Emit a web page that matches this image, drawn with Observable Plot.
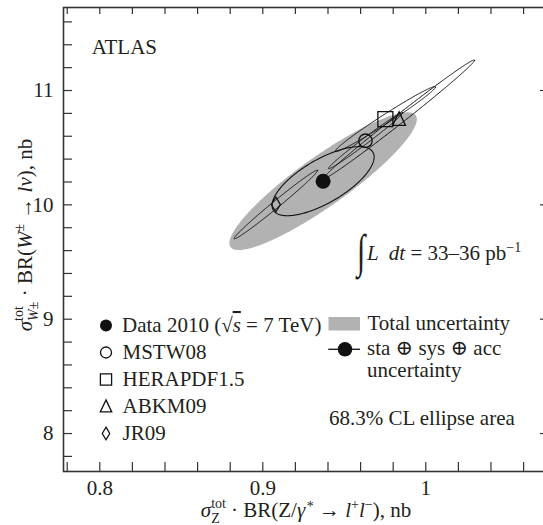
<!DOCTYPE html>
<html>
<head>
<meta charset="utf-8">
<script src="https://cdn.jsdelivr.net/npm/d3@7"></script>
<script src="https://cdn.jsdelivr.net/npm/@observablehq/plot@0.6"></script>
<style>
  html, body { margin: 0; padding: 0; background: #fff; }
  #chart { width: 543px; height: 525px; overflow: hidden; }
  svg text { font-family: "Liberation Serif", "Times New Roman", "DejaVu Serif", serif; }
</style>
</head>
<body>
<div id="chart"></div>
<script>
// ---------------- data ----------------
// measurement (centre of ellipses)
const dataZ = 0.937;
const dataW = 10.207;
// total-uncertainty ellipse (68.3% CL)
const totSigZ = 0.0575, totSigW = 0.602, totRho = 0.90;
// sta+sys+acc ellipse (68.3% CL)
const expSigZ = 0.0313, expSigW = 0.302, expRho = 0.70;

// theory predictions
const pdfNames = ["MSTW08", "HERAPDF1.5", "ABKM09", "JR09"];
const pdfZ     = [0.9630, 0.9752, 0.9836, 0.9080];
const pdfW     = [10.561, 10.750, 10.748, 10.003];
const pdfSigZ  = [0.0227, 0.0307, 0.0463, 0.0256];
const pdfSigW  = [0.245, 0.284, 0.519, 0.300];
const pdfRho   = [0.9909, 0.9863, 0.9953, 0.9912];

// axes
const xTicks = [0.8, 0.9, 1];
const xTickLabels = ["0.8", "0.9", "1"];
const yTicks = [8, 9, 10, 11];
const yTickLabels = ["8", "9", "10", "11"];
const xMinor = [0.78, 0.80, 0.82, 0.84, 0.86, 0.88, 0.90, 0.92, 0.94, 0.96, 0.98, 1.00, 1.02, 1.04, 1.06];
const yMinor = [7.8, 8.0, 8.2, 8.4, 8.6, 8.8, 9.0, 9.2, 9.4, 9.6, 9.8, 10.0, 10.2, 10.4, 10.6, 10.8, 11.0, 11.2, 11.4, 11.6];

// ---------------- layout ----------------
const W = 543, H = 525;
const mL = 63, mT = 7, mR = -2, mB = 54;
const xDom = [0.77773, 1.07344];
const yDom = [7.668, 11.726];
const kx = (W - mR - mL) / (xDom[1] - xDom[0]);
const ky = (H - mB - mT) / (yDom[1] - yDom[0]);
const xInv = px => xDom[0] + (px - mL) / kx;
const yInv = py => yDom[1] - (py - mT) / ky;

const ink = "#231f20";
const gray = "#b2b2b2";
const FS = 21;

// covariance ellipse outline from centre, sigmas and correlation
function ellipse(name, cx, cy, sx, sy, rho, n = 360) {
  const s = Math.sqrt(1 - rho * rho);
  return d3.range(n).map(i => {
    const t = 2 * Math.PI * i / n;
    return {name, x: cx + sx * Math.cos(t), y: cy + sy * (rho * Math.cos(t) + s * Math.sin(t))};
  });
}

// custom symbols (size = pi r^2)
const symSquare = {draw(ctx, size) { const r = Math.sqrt(size / Math.PI); ctx.rect(-r, -r, 2 * r, 2 * r); }};
const symTri = {draw(ctx, size) { const r = Math.sqrt(size / Math.PI);
  ctx.moveTo(0, -1.1 * r); ctx.lineTo(0.95 * r, 0.9 * r); ctx.lineTo(-0.95 * r, 0.9 * r); ctx.closePath(); }};
const symDiamond = {draw(ctx, size) { const r = Math.sqrt(size / Math.PI);
  ctx.moveTo(0, -1.05 * r); ctx.lineTo(0.62 * r, 0); ctx.lineTo(0, 1.05 * r); ctx.lineTo(-0.62 * r, 0); ctx.closePath(); }};
const pdfSymbols = ["circle", symSquare, symTri, symDiamond];
const pdfR = [6.7, 7.5, 6.8, 7.2];
const legR = [5.5, 5.6, 6.0, 6.0];

const totalPts = ellipse("total", dataZ, dataW, totSigZ, totSigW, totRho);
const expPts = ellipse("exp", dataZ, dataW, expSigZ, expSigW, expRho);
const theoryPts = pdfNames.flatMap((n, i) => ellipse(n, pdfZ[i], pdfW[i], pdfSigZ[i], pdfSigW[i], pdfRho[i]));

// legend layout (pixels)
const legX = 105.5, legTextX = 122;
const legRows = [325, 352, 379, 406, 433];

const marks = [
  Plot.line(totalPts, {x: "x", y: "y", curve: "linear-closed", fill: gray, stroke: "none"}),
  Plot.line(expPts, {x: "x", y: "y", curve: "linear-closed", stroke: "#111", strokeWidth: 1.1, fill: "none"}),
  Plot.line(theoryPts, {x: "x", y: "y", z: "name", curve: "linear-closed", stroke: "#111", strokeWidth: 1.0, fill: "none"}),
];
pdfNames.forEach((n, i) => {
  marks.push(Plot.dot([{x: pdfZ[i], y: pdfW[i]}], {x: "x", y: "y", symbol: pdfSymbols[i], r: pdfR[i], stroke: "#111", strokeWidth: 1.3, fill: "none"}));
});
marks.push(Plot.dot([{x: dataZ, y: dataW}], {x: "x", y: "y", r: 7.5, fill: "#111", stroke: "none"}));

// legend: symbols
marks.push(Plot.dot([0], {x: () => xInv(legX), y: () => yInv(legRows[0]), r: 6, fill: "#111", stroke: "none"}));
pdfNames.forEach((n, i) => {
  marks.push(Plot.dot([0], {x: () => xInv(legX), y: () => yInv(legRows[i + 1]), symbol: pdfSymbols[i], r: legR[i], stroke: "#111", strokeWidth: 1.3, fill: "none"}));
});
marks.push(Plot.text(pdfNames, {x: () => xInv(legTextX), y: (d, i) => yInv(legRows[i + 1]), text: d => d, textAnchor: "start", lineAnchor: "middle", fontSize: FS, fill: ink}));
// right legend
marks.push(Plot.rect([0], {x1: () => xInv(328.5), x2: () => xInv(360), y1: () => yInv(317), y2: () => yInv(330.5), fill: gray}));
marks.push(Plot.ruleY([0], {y: () => yInv(348.8), x1: () => xInv(328.3), x2: () => xInv(360), stroke: "#111", strokeWidth: 1.3}));
marks.push(Plot.dot([0], {x: () => xInv(344.5), y: () => yInv(348.8), r: 7.3, fill: "#111", stroke: "none"}));

// ticks
marks.push(Plot.ruleX(xMinor, {x: d => d, y1: yDom[0], y2: yDom[0] + 9 / ky, stroke: "#333", strokeWidth: 1.2}));
marks.push(Plot.ruleX(xMinor, {x: d => d, y1: yDom[1], y2: yDom[1] - 7 / ky, stroke: "#333", strokeWidth: 1.2}));
marks.push(Plot.ruleY(yMinor, {y: d => d, x1: xDom[0], x2: xDom[0] + 9 / kx, stroke: "#333", strokeWidth: 1.2}));
marks.push(Plot.ruleY(yTicks, {y: d => d, x1: xDom[1], x2: xDom[1] - 5 / kx, stroke: "#333", strokeWidth: 1.2}));
marks.push(Plot.axisX({ticks: xTicks, tickSize: 0, tickPadding: 9, fontSize: FS, fill: ink, tickFormat: d => xTickLabels[xTicks.indexOf(d)], label: null}));
marks.push(Plot.axisY({ticks: yTicks, tickSize: 0, tickPadding: 10, fontSize: FS, fill: ink, tickFormat: d => yTickLabels[yTicks.indexOf(d)], label: null}));
marks.push(Plot.frame({stroke: "#333", strokeWidth: 1.6}));

const chart = Plot.plot({
  width: W, height: H,
  marginLeft: mL, marginTop: mT, marginRight: mR, marginBottom: mB,
  x: {domain: xDom},
  y: {domain: yDom},
  style: {fontFamily: "Liberation Serif, serif", fontSize: FS + "px", color: ink, background: "white", overflow: "hidden"},
  marks
});
document.getElementById("chart").appendChild(chart);

// ---------------- rich text ----------------
const svg = d3.select(chart);
function rich(x, y, html, opts = {}) {
  const t = svg.append("text")
    .attr("x", x).attr("y", y)
    .attr("font-size", opts.size || FS)
    .attr("fill", ink)
    .attr("text-anchor", opts.anchor || "start");
  if (opts.transform) t.attr("transform", opts.transform);
  t.html(html);
  return t;
}
const S = 14;
rich(91.7, 54, "ATLAS");
rich(legTextX, legRows[0] + 7,
  `Data 2010 (√<tspan font-style="italic" style="text-decoration: overline">s</tspan> = 7 TeV)`);
rich(367.5, 330, "Total uncertainty");
rich(367, 355, "sta ⊕ sys ⊕ acc");
rich(367, 377, "uncertainty");
rich(329, 425, "68.3% CL ellipse area");
rich(0, 0, "∫", {size: 42, transform: "translate(357,267) scale(0.72,1.12)"});
rich(367, 260, `<tspan font-style="italic">L  dt</tspan> = 33–36 pb<tspan font-size="${S}" dy="-8">−1</tspan>`);

// x axis title
rich(306, 517,
  `<tspan font-style="italic">σ</tspan><tspan font-size="${S}" dy="-9">tot</tspan><tspan font-size="${S}" dx="-14.8" dy="15">Z</tspan><tspan dx="6" dy="-6"> · BR(Z/</tspan><tspan font-style="italic">γ</tspan><tspan font-size="${S}" dx="1.5" dy="-6">*</tspan><tspan dy="6"> → </tspan><tspan font-style="italic">l</tspan><tspan font-size="${S}" dy="-8">+</tspan><tspan font-style="italic" dy="8">l</tspan><tspan font-size="${S}" dy="-8">−</tspan><tspan dy="8">), nb</tspan>`,
  {anchor: "middle"});
// y axis title
rich(0, 0,
  `<tspan font-style="italic">σ</tspan><tspan font-size="${S}" dy="-9">tot</tspan><tspan font-size="${S}" dx="-14.8" dy="15"><tspan font-style="italic">W</tspan>±</tspan><tspan dy="-6"> · BR(</tspan><tspan font-style="italic">W</tspan><tspan font-size="${S}" dy="-8">±</tspan><tspan dy="8"> → </tspan><tspan font-style="italic">lν</tspan>), nb`,
  {anchor: "middle", transform: "translate(32,235) rotate(-90)"});
</script>
</body>
</html>
